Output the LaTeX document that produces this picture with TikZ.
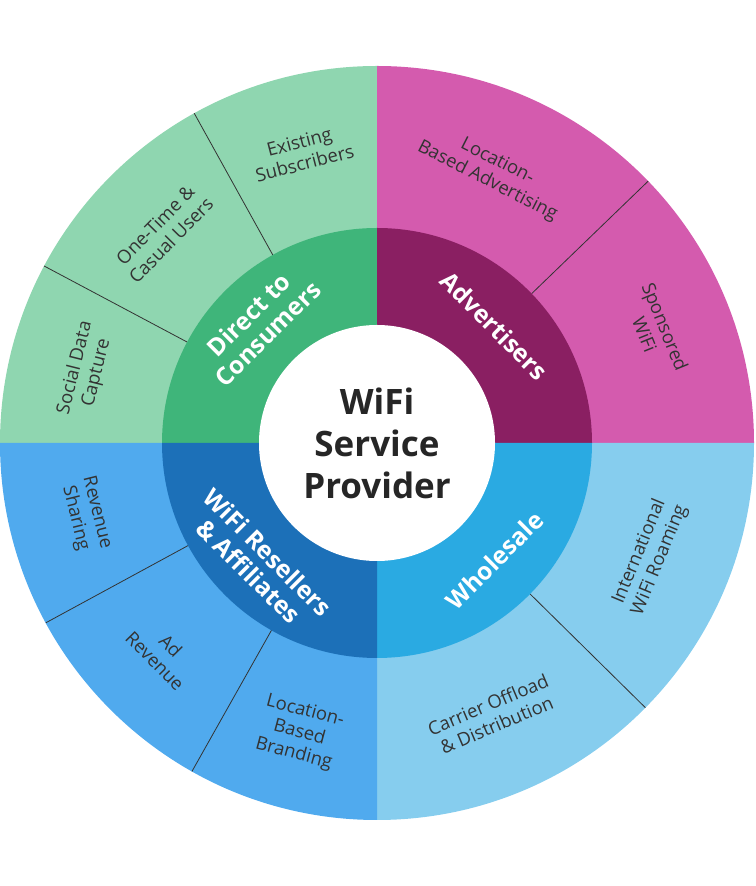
\documentclass[tikz,border=0pt]{standalone}
\usepackage{fontspec}
\setmainfont{Open Sans}
\usetikzlibrary{calc}
\begin{document}
\begin{tikzpicture}[x=1pt,y=1pt,
  outlbl/.style={text=black!80,font=\fontsize{18.5}{22}\selectfont,align=center,inner sep=1pt},
  inlbl/.style={text=white,font=\bfseries\fontsize{24.5}{27}\selectfont,align=center,inner sep=1pt},
  sep/.style={draw=black!80,line width=0.8pt}]
\useasboundingbox (0,0) rectangle (755,886);
\coordinate (C) at (377,443);
\def\R{377}\def\Ri{215}
\definecolor{gO}{HTML}{8FD6B0}\definecolor{gI}{HTML}{3FB57A}
\definecolor{mO}{HTML}{D45BAE}\definecolor{mI}{HTML}{8A1F62}
\definecolor{cO}{HTML}{86CDEE}\definecolor{cI}{HTML}{2AAAE2}
\definecolor{bO}{HTML}{50AAEE}\definecolor{bI}{HTML}{1C70B8}
\newcommand\sector[4]{\fill[#1] (C) -- ++(#2:#4) arc[start angle=#2,end angle=#3,radius=#4] -- cycle;}
\sector{gO}{90}{180}{\R}
\sector{mO}{0}{90}{\R}
\sector{cO}{-90}{0}{\R}
\sector{bO}{180}{270}{\R}
\foreach \a in {119,152,44,-44.6,208.5,240.6}{
  \draw[sep] ($(C)+(\a:\Ri)$) -- ($(C)+(\a:\R)$);}
\sector{gI}{90}{180}{\Ri}
\sector{mI}{0}{90}{\Ri}
\sector{cI}{-90}{0}{\Ri}
\sector{bI}{180}{270}{\Ri}
\fill[white] (C) circle[radius=118];
\node[font=\bfseries\fontsize{35}{42}\selectfont,text=black!85,align=center] (center) at (C) {WiFi\\Service\\Provider};
\node[inlbl,rotate=45] (dc) at ($(C)+(135:168)$) {Direct to\\Consumers};
\node[inlbl,rotate=-45] (ad) at ($(C)+(45:166)$) {Advertisers};
\node[inlbl,rotate=45] (wh) at ($(C)+(-45:166)$) {Wholesale};
\node[inlbl,rotate=-45] (rs) at ($(C)+(225:168)$) {WiFi Resellers\\\& Affiliates};
\node[outlbl,rotate=14.5] (o1) at ($(C)+(104.5:300)$) {Existing\\Subscribers};
\node[outlbl,rotate=45.5] (o2) at ($(C)+(135.5:300)$) {One-Time \&\\Casual Users};
\node[outlbl,rotate=76] (o3) at ($(C)+(166:300)$) {Social Data\\Capture};
\node[outlbl,rotate=-27] (o4) at ($(C)+(67:295)$) {Location-\\Based Advertising};
\node[outlbl,rotate=-68] (o5) at ($(C)+(22:300)$) {Sponsored\\WiFi};
\node[outlbl,rotate=67.5] (o6) at ($(C)+(-22.5:295)$) {International\\WiFi Roaming};
\node[outlbl,rotate=23] (o7) at ($(C)+(-67:295)$) {Carrier Offload\\\& Distribution};
\node[outlbl,rotate=-76] (o8) at ($(C)+(194:300)$) {Revenue\\Sharing};
\node[outlbl,rotate=-45.5] (o9) at ($(C)+(224.5:300)$) {Ad\\Revenue};
\node[outlbl,rotate=-15] (o10) at ($(C)+(255:300)$) {Location-\\Based\\Branding};
\end{tikzpicture}
\end{document}
